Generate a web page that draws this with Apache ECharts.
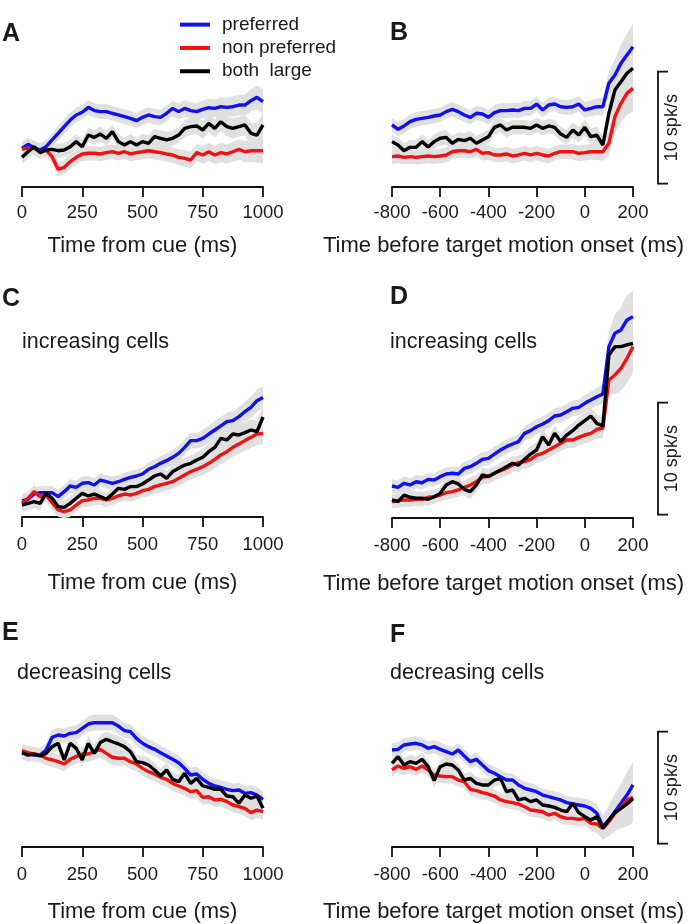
<!DOCTYPE html>
<html><head><meta charset="utf-8">
<script src="https://cdn.jsdelivr.net/npm/echarts@6.0.0/dist/echarts.min.js"></script>
<style>html,body{margin:0;padding:0;background:#fff}#c{width:689px;height:924px}</style>
</head><body><div id="c"></div>
<script>
// ---------- time bases (ms) ----------
const timeCue = [0,25,50,75,100,125,150,175,200,225,250,275,300,325,350,375,400,425,450,475,500,525,550,575,600,625,650,675,700,725,750,775,800,825,850,875,900,925,950,975,1000];
const timeMotion = [-800,-775,-750,-725,-700,-675,-650,-625,-600,-575,-550,-525,-500,-475,-450,-425,-400,-375,-350,-325,-300,-275,-250,-225,-200,-175,-150,-125,-100,-75,-50,-25,0,25,50,75,100,125,150,175,200];
// tick labels
const cueTicks = [0,250,500,750,1000];
const motionTicks = [-800,-600,-400,-200,0,200];
// series names
const seriesNames = ['preferred','non preferred','both  large'];

// ---------- firing rates (spk/s, relative) ----------
// A : all cells, time from cue
const aPreferred = [3.45,3.81,3.51,3.30,3.60,4.20,4.79,5.39,5.98,6.43,6.67,7.11,6.82,6.73,6.73,6.58,6.43,6.28,6.13,5.92,6.22,6.43,6.28,6.22,6.58,7.02,6.73,7.02,6.82,6.73,6.93,7.08,7.02,7.17,7.11,7.17,7.32,7.32,7.71,8.01,7.62];
const aNonPreferred = [3.39,3.45,3.45,3.15,3.30,2.71,1.58,1.76,2.26,2.65,2.95,3.01,3.01,2.95,3.07,3.15,3.01,3.15,2.95,3.07,3.15,3.24,3.15,3.07,2.95,2.86,2.65,2.56,2.41,3.07,2.86,3.15,2.86,3.07,2.95,3.15,3.36,3.15,3.24,3.24,3.24];
const aBothLarge = [2.65,3.15,3.60,3.07,3.30,3.36,3.24,3.30,3.60,4.05,3.60,4.64,4.43,4.73,4.35,4.94,4.05,3.75,4.05,3.75,4.05,3.90,4.49,4.35,4.20,4.35,4.64,5.24,5.39,5.45,5.09,5.68,5.24,5.83,5.39,5.24,5.39,5.54,4.79,4.64,5.54];
const aSem = [0.6,0.6,0.6,0.6,0.6,0.6,0.65,0.65,0.65,0.65,0.65,0.65,0.65,0.65,0.65,0.65,0.65,0.65,0.65,0.65,0.7,0.7,0.7,0.7,0.7,0.7,0.7,0.75,0.75,0.75,0.8,0.8,0.8,0.85,0.85,0.9,0.9,0.95,1.0,1.05,1.1];
// B : all cells, time before target motion onset
const bPreferred = [5.54,5.15,5.45,5.83,6.04,6.13,6.22,6.34,6.43,6.73,6.93,6.73,6.43,6.22,6.58,6.52,6.22,6.64,6.82,6.82,6.88,6.82,7.02,7.02,7.41,6.88,7.32,7.41,7.17,7.11,7.17,7.41,6.88,7.02,7.17,7.17,9.26,10.0,11.04,11.79,12.53];
const bNonPreferred = [2.71,2.77,2.65,2.71,2.65,2.71,2.77,2.71,2.77,2.86,3.15,3.24,3.24,3.15,3.36,3.01,3.07,2.86,2.86,2.95,2.77,2.86,3.01,2.86,3.01,2.86,2.77,3.01,3.15,3.15,3.15,3.01,3.07,3.15,3.15,3.15,3.90,6.28,7.47,8.36,8.81];
const bBothLarge = [4.05,3.75,3.24,3.54,3.54,4.05,3.57,4.05,4.35,4.43,3.90,4.26,4.14,4.35,3.90,4.20,4.49,5.33,5.54,5.09,5.33,5.33,5.33,5.24,5.54,5.24,5.45,5.33,4.73,4.43,5.09,4.64,5.33,4.49,4.64,3.75,6.58,8.66,9.40,10.15,10.60];
const bSem = [0.65,0.65,0.65,0.65,0.65,0.65,0.65,0.65,0.65,0.65,0.65,0.65,0.65,0.65,0.65,0.65,0.65,0.65,0.65,0.65,0.65,0.65,0.65,0.65,0.65,0.65,0.65,0.65,0.65,0.65,0.7,0.7,0.7,0.7,0.75,0.8,1.1,1.4,1.7,1.9,2.1];
// C : increasing cells, time from cue
const cPreferred = [1.43,1.58,2.05,2.17,2.17,2.17,1.82,2.26,2.77,2.65,3.01,3.07,2.86,3.30,3.15,3.01,3.15,3.36,3.54,3.66,3.84,4.26,4.49,4.79,5.03,5.33,5.68,6.22,6.82,6.82,7.02,7.41,7.77,8.13,8.51,8.60,8.96,9.40,9.79,10.39,10.68];
const cNonPreferred = [1.22,1.67,2.26,1.82,1.96,1.28,0.63,0.48,0.63,1.07,1.46,1.52,1.67,1.67,1.52,1.67,1.88,2.05,1.96,2.11,2.35,2.47,2.71,2.86,3.01,3.15,3.45,3.75,4.05,4.26,4.49,4.79,5.15,5.54,5.83,6.22,6.52,6.82,7.11,7.41,7.47];
const cBothLarge = [1.07,1.22,1.37,1.22,2.11,1.67,0.92,0.86,1.22,1.67,2.11,1.88,2.05,1.82,1.58,2.05,2.56,2.47,2.71,2.71,2.95,3.30,3.66,3.84,3.45,4.05,4.35,4.64,4.79,5.09,5.33,5.83,6.22,7.02,6.88,7.41,7.32,7.53,7.77,7.62,8.93];
const cSem = [0.6,0.6,0.6,0.6,0.6,0.6,0.6,0.6,0.6,0.6,0.6,0.6,0.6,0.6,0.6,0.6,0.6,0.6,0.6,0.6,0.6,0.6,0.65,0.65,0.65,0.65,0.7,0.7,0.7,0.7,0.75,0.75,0.8,0.8,0.8,0.85,0.85,0.9,0.95,1.0,1.0];
// D : increasing cells, time before target motion onset
const dPreferred = [2.86,2.74,3.10,2.95,3.24,3.15,3.45,3.39,3.69,3.93,3.99,3.93,4.43,4.58,4.88,5.24,5.33,5.71,6.07,6.37,6.61,6.82,7.56,7.80,8.15,8.39,8.69,9.11,9.20,9.49,9.79,9.88,10.24,10.54,10.83,11.07,15.30,16.49,16.79,17.68,17.98];
const dNonPreferred = [1.46,1.55,1.61,1.61,1.67,1.67,1.85,1.90,2.05,2.26,2.35,2.50,2.74,2.95,3.24,3.63,3.75,3.99,4.23,4.43,4.73,4.94,5.03,5.24,5.62,5.77,6.07,6.37,6.67,6.96,6.96,7.20,7.41,7.56,7.92,8.01,12.32,12.77,13.36,14.26,15.30];
const dBothLarge = [1.61,1.46,2.05,1.85,1.76,1.76,1.67,1.90,2.20,2.95,3.24,3.04,2.56,2.35,2.95,3.84,3.69,3.99,4.29,4.58,4.88,4.73,5.24,5.71,6.07,7.26,6.52,7.56,6.82,7.41,7.80,8.30,8.69,9.11,8.45,8.21,14.55,15.30,15.30,15.45,15.60];
const dSem = [0.6,0.6,0.6,0.6,0.6,0.6,0.6,0.6,0.6,0.6,0.6,0.6,0.6,0.65,0.65,0.65,0.65,0.65,0.65,0.65,0.65,0.65,0.65,0.7,0.7,0.7,0.7,0.7,0.7,0.7,0.7,0.7,0.75,0.75,0.8,0.9,1.3,1.7,2.0,2.2,2.3];
// E : decreasing cells, time from cue
const ePreferred = [8.42,8.36,8.21,8.21,8.66,9.79,10.0,9.91,10.15,10.21,10.60,10.98,11.10,11.10,11.10,11.10,10.80,10.39,10.30,9.70,9.26,8.96,8.72,8.42,8.13,7.83,7.53,7.02,6.43,6.52,6.04,5.68,5.45,5.33,5.15,5.03,5.09,4.79,4.85,4.64,4.26];
const eNonPreferred = [8.60,8.42,8.30,8.21,7.92,7.77,7.62,7.41,7.83,8.07,8.30,8.30,8.51,8.72,8.36,8.01,7.92,7.92,7.62,7.41,7.02,6.73,6.52,6.22,6.04,5.68,5.45,5.24,4.94,5.03,4.43,4.49,4.20,4.26,4.05,3.75,3.60,3.45,3.07,3.30,3.15];
const eBothLarge = [8.42,8.21,8.30,8.13,8.36,8.96,9.26,7.77,9.26,8.81,7.77,9.26,8.36,9.32,9.61,9.40,9.20,8.96,8.51,7.62,7.53,7.32,6.88,6.34,6.88,6.04,5.83,6.58,5.68,6.13,5.45,5.33,5.15,5.15,4.55,4.49,3.90,4.64,4.35,4.55,3.45];
const eSem = [0.6,0.6,0.6,0.6,0.6,0.65,0.65,0.65,0.65,0.65,0.65,0.7,0.7,0.7,0.7,0.7,0.7,0.65,0.65,0.65,0.65,0.65,0.65,0.65,0.65,0.65,0.65,0.65,0.65,0.65,0.65,0.65,0.65,0.65,0.65,0.65,0.65,0.65,0.7,0.7,0.7];
// F : decreasing cells, time before target motion onset
const fPreferred = [8.66,8.72,9.11,9.20,9.26,9.11,8.81,8.96,8.72,8.51,8.30,8.66,8.13,7.62,7.83,7.32,6.82,6.58,6.28,5.98,5.98,5.54,5.24,5.09,4.94,4.64,4.49,4.35,4.20,3.96,3.84,3.75,3.66,3.45,3.01,1.82,2.41,3.15,3.90,4.64,5.54];
const fNonPreferred = [6.88,7.23,7.02,7.17,6.93,7.23,6.88,6.43,6.34,6.28,6.28,5.98,5.83,5.15,5.03,4.85,4.73,4.55,4.20,4.05,3.96,3.84,3.60,3.30,3.24,3.15,2.86,3.01,2.71,2.56,2.56,2.47,2.56,2.11,2.05,1.67,2.26,3.01,3.54,4.20,4.43];
const fBothLarge = [7.47,8.07,7.32,7.62,7.47,7.83,7.17,5.92,7.17,7.41,7.32,6.88,5.98,6.13,5.68,5.54,5.54,5.98,6.13,4.94,5.09,4.20,4.35,4.05,4.20,3.75,3.66,3.54,3.30,3.15,3.90,3.07,2.71,2.41,2.71,1.67,2.41,3.07,3.45,3.84,4.32];
const fSem = [0.6,0.6,0.6,0.6,0.6,0.6,0.6,0.6,0.6,0.6,0.6,0.6,0.6,0.6,0.6,0.6,0.6,0.6,0.6,0.6,0.6,0.6,0.6,0.6,0.6,0.6,0.6,0.6,0.6,0.6,0.6,0.65,0.65,0.7,0.8,1.0,1.3,1.6,1.8,2.0,2.1];
// scale bar (spk/s)
const scaleBarValue = [10];
const scaleBarBase = [0.3];

// ---------- layout / style ----------
const FONT = "'Liberation Sans', Arial, Helvetica, sans-serif";
const PX_PER_UNIT = 11.2;
const COLORS = ['#1010f0', '#f01212', '#000000'];
const panels = [
  {letter:'A', x:timeCue, ticks:cueTicks, lines:[aPreferred,aNonPreferred,aBothLarge], sem:aSem, left:22, width:241, axisY:187, ymax:15, title:'Time from cue (ms)', tp:0, lm:16, ng:48, sub:null, scale:false, lx:2, ly:36},
  {letter:'B', x:timeMotion, ticks:motionTicks, lines:[bPreferred,bNonPreferred,bBothLarge], sem:bSem, left:392, width:241, axisY:187, ymax:15, title:'Time before target motion onset (ms)', tp:18, lm:16, ng:48, sub:null, scale:true, lx:390, ly:35},
  {letter:'C', x:timeCue, ticks:cueTicks, lines:[cPreferred,cNonPreferred,cBothLarge], sem:cSem, left:22, width:241, axisY:517, ymax:21, title:'Time from cue (ms)', tp:0, lm:18, ng:55, sub:'increasing cells', sx:22, sy:342, scale:false, lx:2, ly:301},
  {letter:'D', x:timeMotion, ticks:motionTicks, lines:[dPreferred,dNonPreferred,dBothLarge], sem:dSem, left:392, width:241, axisY:518, ymax:21, title:'Time before target motion onset (ms)', tp:18, lm:18, ng:55, sub:'increasing cells', sx:390, sy:342, scale:true, lx:390, ly:299},
  {letter:'E', x:timeCue, ticks:cueTicks, lines:[ePreferred,eNonPreferred,eBothLarge], sem:eSem, left:22, width:241, axisY:847, ymax:13, title:'Time from cue (ms)', tp:0, lm:18, ng:54, sub:'decreasing cells', sx:17, sy:673, scale:false, lx:2, ly:635},
  {letter:'F', x:timeMotion, ticks:motionTicks, lines:[fPreferred,fNonPreferred,fBothLarge], sem:fSem, left:392, width:241, axisY:847, ymax:13, title:'Time before target motion onset (ms)', tp:18, lm:18, ng:54, sub:'decreasing cells', sx:390, sy:673, scale:true, lx:390, ly:637}
];

const grids = [], xAxes = [], yAxes = [], series = [];
panels.forEach((p, gi) => {
  const h = p.ymax * PX_PER_UNIT;
  grids.push({left: p.left, width: p.width, top: p.axisY - h, height: h, containLabel: false, outerBoundsMode: 'none'});
  xAxes.push({
    type: 'value', gridIndex: gi, min: p.ticks[0], max: p.ticks[p.ticks.length - 1], interval: p.ticks[1] - p.ticks[0],
    axisLine: {show: true, lineStyle: {color: '#111', width: 1.8}},
    axisTick: {show: true, length: 10, lineStyle: {color: '#111', width: 1.8}},
    axisLabel: {show: true, margin: p.lm, color: '#1a1a1a', fontSize: 18.5, fontFamily: FONT, formatter: v => String(v)},
    splitLine: {show: false},
    name: p.title, nameLocation: 'middle', nameGap: p.ng,
    nameTextStyle: {color: '#1a1a1a', fontSize: 22, fontFamily: FONT, padding: [0, p.tp, 0, 0]}
  });
  yAxes.push({type: 'value', gridIndex: gi, min: 0, max: p.ymax, show: false});
  // SEM bands
  p.lines.forEach((vals) => {
    const xs = p.x, sem = p.sem;
    series.push({
      type: 'custom', xAxisIndex: gi, yAxisIndex: gi, silent: true, z: 1, clip: false,
      data: [[xs[0], vals[0]]],
      renderItem: function (params, api) {
        const pts = [];
        for (let i = 0; i < xs.length; i++) pts.push(api.coord([xs[i], vals[i] + sem[i]]));
        for (let i = xs.length - 1; i >= 0; i--) pts.push(api.coord([xs[i], vals[i] - sem[i]]));
        return {type: 'polygon', shape: {points: pts}, style: {fill: '#e0e0e0', stroke: null}};
      }
    });
  });
  // mean lines
  p.lines.forEach((vals, k) => {
    series.push({
      type: 'line', name: seriesNames[k], xAxisIndex: gi, yAxisIndex: gi, z: 3 + k,
      data: p.x.map((x, i) => [x, vals[i]]),
      symbol: 'none', smooth: false, clip: false,
      color: COLORS[k],
      lineStyle: {color: COLORS[k], width: 3.4}
    });
  });
});

const chart = echarts.init(document.getElementById('c'), null, {renderer: 'canvas'});
chart.setOption({
  animation: false,
  backgroundColor: '#ffffff',
  grid: grids, xAxis: xAxes, yAxis: yAxes, series: series,
  legend: {
    data: seriesNames, left: 180, top: 13, orient: 'vertical', selectedMode: false, padding: 0,
    itemWidth: 30, itemHeight: 4, itemGap: 0, icon: 'rect',
    textStyle: {fontSize: 19, lineHeight: 23.3, color: '#1a1a1a', fontFamily: FONT, padding: [0, 0, 0, 7]}
  }
});

// ---------- annotations ----------
const graphics = [];
panels.forEach((p, gi) => {
  graphics.push({type: 'text', left: p.lx, top: p.ly - 14, z: 10,
    style: {text: p.letter, fontSize: 25, fontWeight: 'bold', fontFamily: FONT, fill: '#1a1a1a'}});
  if (p.sub) {
    graphics.push({type: 'text', x: p.sx, y: p.sy, z: 10,
      style: {text: p.sub, fontSize: 21.5, fontFamily: FONT, fill: '#1a1a1a', verticalAlign: 'middle', align: 'left'}});
  }
  if (p.scale) {
    const xEnd = p.ticks[p.ticks.length - 1];
    const b = chart.convertToPixel({gridIndex: gi}, [xEnd, scaleBarBase[0]]);
    const t = chart.convertToPixel({gridIndex: gi}, [xEnd, scaleBarBase[0] + scaleBarValue[0]]);
    const bx = b[0] + 25;
    const ls = {stroke: '#111', lineWidth: 1.8};
    graphics.push({type: 'line', z: 10, shape: {x1: bx, y1: b[1], x2: bx, y2: t[1]}, style: ls});
    graphics.push({type: 'line', z: 10, shape: {x1: bx - 0.9, y1: b[1], x2: bx + 10, y2: b[1]}, style: ls});
    graphics.push({type: 'line', z: 10, shape: {x1: bx - 0.9, y1: t[1], x2: bx + 10, y2: t[1]}, style: ls});
    graphics.push({type: 'text', z: 10, x: bx + 14, y: (b[1] + t[1]) / 2, rotation: Math.PI / 2,
      style: {text: scaleBarValue[0] + ' spk/s', fontSize: 18, fontFamily: FONT, fill: '#1a1a1a', align: 'center', verticalAlign: 'middle'}});
  }
});
chart.setOption({graphic: graphics});
</script>
</body></html>
